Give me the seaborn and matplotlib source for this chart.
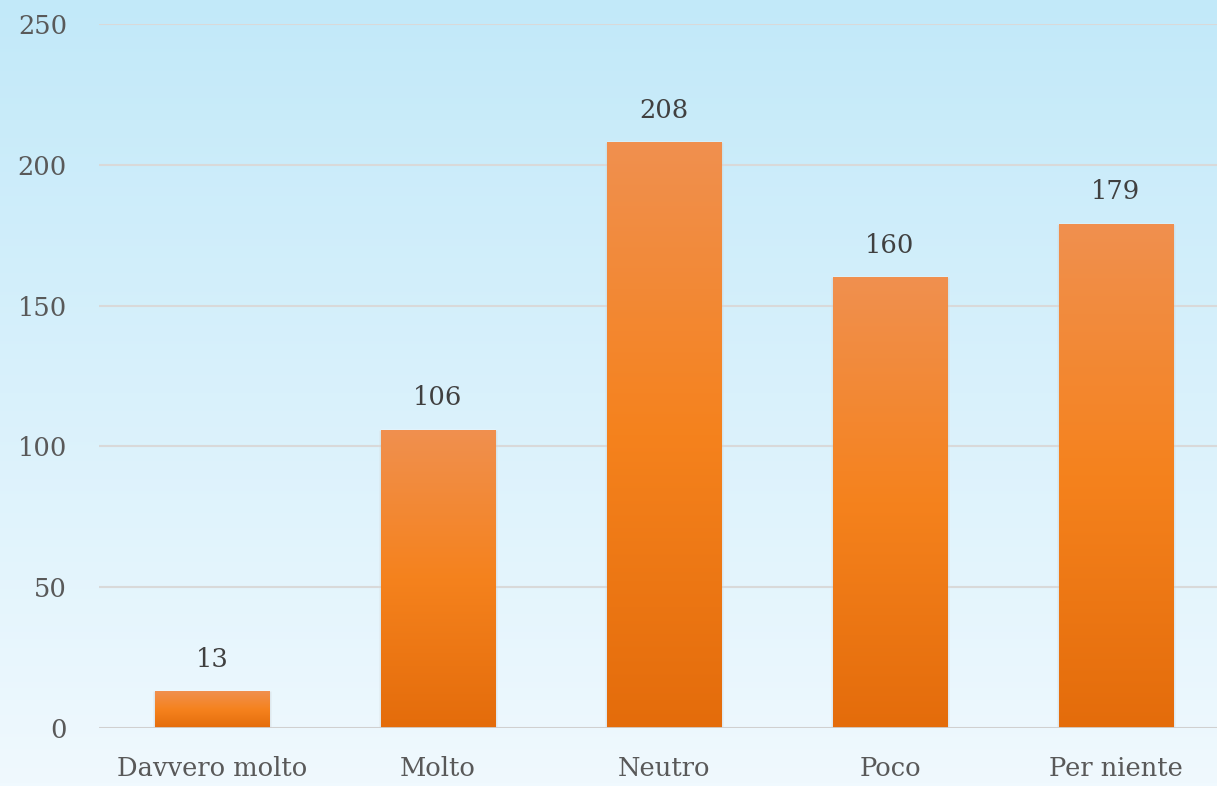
import numpy as np
import pandas as pd
import matplotlib
matplotlib.use("Agg")
import matplotlib.pyplot as plt
import seaborn as sns
from matplotlib.colors import LinearSegmentedColormap

# data
categories = ["Davvero molto", "Molto", "Neutro", "Poco", "Per niente"]
counts = [13, 106, 208, 160, 179]
y_ticks = [0, 50, 100, 150, 200, 250]

df = pd.DataFrame({"cat": categories, "n": counts})

sns.set_style("white")
plt.rcParams["font.family"] = ["DejaVu Serif"]

text_col = "#595959"
fig = plt.figure(figsize=(12.17, 7.86), dpi=100)

# background gradient over the whole figure
bg = fig.add_axes([0, 0, 1, 1], zorder=0)
bg_cmap = LinearSegmentedColormap.from_list("bg", ["#c2e9f9", "#f0f9fe"])
bg.imshow(np.linspace(0, 1, 256).reshape(-1, 1), aspect="auto", cmap=bg_cmap,
          extent=[0, 1, 0, 1], origin="upper")
bg.axis("off")

ax = fig.add_axes([99 / 1217, 1 - 728 / 786, 1 - 99 / 1217, (728 - 24) / 786], zorder=1)
ax.patch.set_alpha(0)

sns.barplot(data=df, x="cat", y="n", color="#f4821f", width=0.505, ax=ax,
            saturation=1, zorder=3)

ax.set_xlim(-0.5, 4.447)
ax.set_ylim(0, 250)
ax.set_yticks(y_ticks)
ax.yaxis.grid(True, color="#d9d9d9", linewidth=1.5, zorder=0)
ax.set_axisbelow(True)
for s in ax.spines.values():
    s.set_visible(False)
ax.axhline(0, color="#d0d0d0", linewidth=2, zorder=4)

ax.set_xlabel("")
ax.set_ylabel("")
ax.tick_params(axis="both", length=0, labelsize=18.5, labelcolor=text_col)
ax.tick_params(axis="x", pad=20)
ax.tick_params(axis="y", pad=23)

# gradient fill on each bar
bar_cmap = LinearSegmentedColormap.from_list("bar", ["#f0904f", "#f5821d", "#e46c0b"])
grad = np.linspace(0, 1, 256).reshape(-1, 1)
for p in ax.patches:
    x0, y0 = p.get_x(), p.get_y()
    w, h = p.get_width(), p.get_height()
    # soft shadow
    ax.bar(x0 + w / 2, h, width=w * 1.03, color="#7a8a95", alpha=0.18, zorder=2)
    im = ax.imshow(grad, aspect="auto", cmap=bar_cmap, origin="upper",
                   extent=[x0, x0 + w, y0, y0 + h], zorder=3)
    im.set_clip_path(p)
    ax.annotate(f"{int(h)}", (x0 + w / 2, h), xytext=(0, 14),
                textcoords="offset points", ha="center", va="bottom",
                fontsize=18.5, color="#404040")

ax.set_xlim(-0.5, 4.447)
ax.set_ylim(0, 250)

fig.savefig("out.png", dpi=100)
